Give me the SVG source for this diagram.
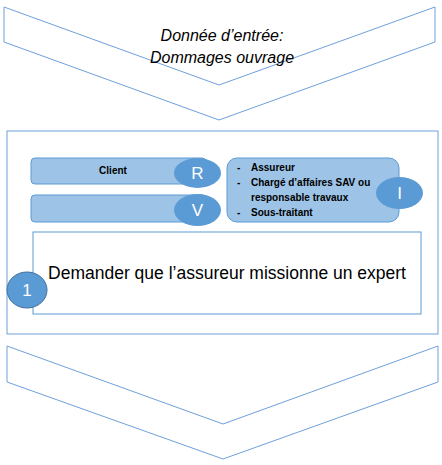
<svg xmlns="http://www.w3.org/2000/svg" width="442" height="465" viewBox="0 0 442 465">
<style>
.chev{fill:#fff;stroke:#6FA0DC;stroke-width:1}
.frame{fill:#fff;stroke:#6FA0DC;stroke-width:1}
.bar{fill:#9DC3E6;stroke:#5B9BD5;stroke-width:1}
.dot{fill:#5B9BD5;stroke:none}
.dotw{fill:#fff;font-family:"Liberation Sans",Arial,sans-serif;font-size:17px;text-anchor:middle}
.lbl{font-family:"Liberation Sans",Arial,sans-serif;font-size:10px;font-weight:bold;fill:#000}
.ital{font-family:"Liberation Sans",Arial,sans-serif;font-size:16px;font-style:italic;fill:#000;text-anchor:middle}
</style>
<rect width="442" height="465" fill="#fff"/>
<g id="input">
<path class="chev" d="M4,7 L219,85 L435,7 L435,42 L219,120 L4,42 Z"/>
<text class="ital" x="222" y="41">Donnée d’entrée:</text>
<text class="ital" x="222" y="63">Dommages ouvrage</text>
</g>
<g id="frame"><rect class="frame" x="7" y="131" width="431" height="203"/></g>
<g id="client">
<rect class="bar" x="31" y="158" width="175" height="26" rx="4"/>
<text class="lbl" x="113" y="174" text-anchor="middle">Client</text>
</g>
<g id="R">
<ellipse class="dot" cx="197.5" cy="173" rx="23.5" ry="15"/>
<text class="dotw" x="197.5" y="179">R</text>
</g>
<g id="vbar"><rect class="bar" x="31" y="195" width="175" height="27" rx="4"/></g>
<g id="V">
<ellipse class="dot" cx="197.5" cy="210" rx="23.5" ry="16"/>
<text class="dotw" x="197.5" y="216">V</text>
</g>
<g id="actors">
<rect class="bar" x="227" y="158" width="172" height="64" rx="10"/>
<text class="lbl" x="237" y="171">-</text><text class="lbl" x="251" y="171">Assureur</text>
<text class="lbl" x="237" y="186">-</text><text class="lbl" x="251" y="186">Chargé d’affaires SAV ou</text>
<text class="lbl" x="251" y="201">responsable travaux</text>
<text class="lbl" x="237" y="216">-</text><text class="lbl" x="251" y="216">Sous-traitant</text>
</g>
<g id="I">
<ellipse class="dot" cx="399.5" cy="193" rx="23.5" ry="16"/>
<text class="dotw" x="399.5" y="199">I</text>
</g>
<g id="task">
<rect x="33" y="232" width="388" height="82" fill="#fff" stroke="#5B9BD5" stroke-width="1"/>
<text x="227" y="279" font-family="Liberation Sans, Arial, sans-serif" font-size="17.5" text-anchor="middle" fill="#000">Demander que l’assureur missionne un expert</text>
</g>
<g id="step1">
<ellipse cx="27" cy="290" rx="20" ry="18" fill="#5B9BD5" stroke="#41719C" stroke-width="1"/>
<text class="dotw" x="27" y="296">1</text>
</g>
<g id="output">
<path class="chev" d="M7,346 L223,424 L438,346 L438,382 L223,459 L7,382 Z"/>
</g>
</svg>
